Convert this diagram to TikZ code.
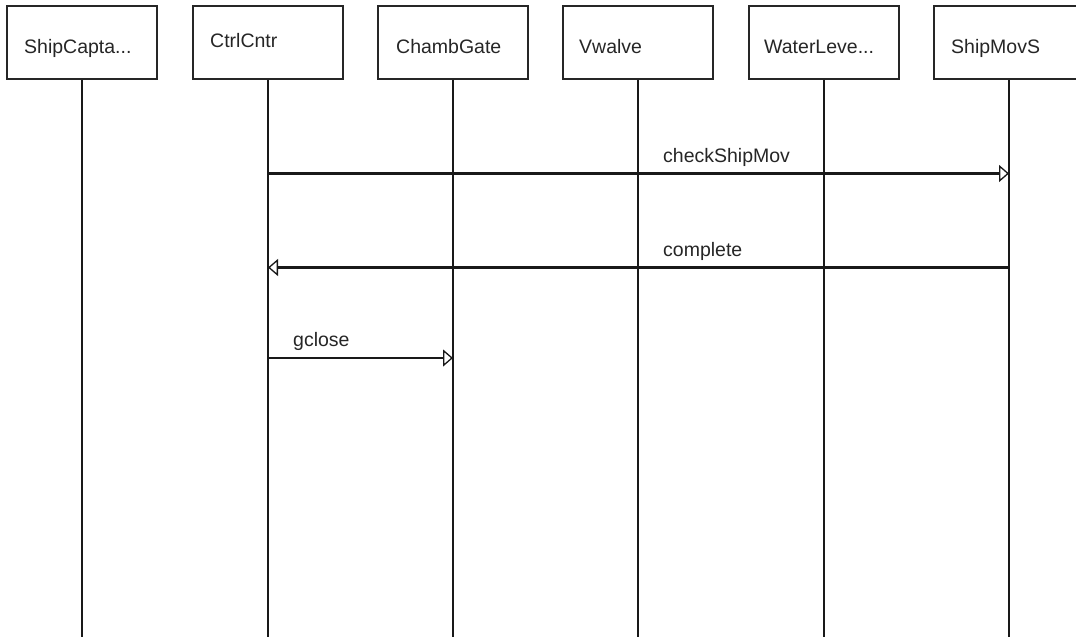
\documentclass[tikz,border=0pt]{standalone}
\usepackage{fontspec}
\setmainfont{Liberation Sans}
\usetikzlibrary{arrows.meta}
\begin{document}
\begin{tikzpicture}[x=1pt,y=-1pt,
  objbox/.style={draw=black!85, line width=1.6pt, fill=white, minimum width=150pt, minimum height=73pt, inner sep=0pt},
  lbl/.style={font=\fontsize{19.5}{21}\selectfont, inner sep=0pt, anchor=base west, text=black!85},
  life/.style={draw=black!90, line width=2.6pt},
  msg/.style={draw=black!90, line width=2.4pt, -{Triangle[open, length=10pt, width=17pt, line width=1.3pt]}}
]
\useasboundingbox (0,0) rectangle (1076,637);
\fill[white] (0,0) rectangle (1076,637);
% lifelines
\coordinate (e1) at (82,637);
\coordinate (e2) at (268,637);
\coordinate (e3) at (453,637);
\coordinate (e4) at (638,637);
\coordinate (e5) at (824,637);
\coordinate (e6) at (1009,637);
\node[objbox] (b1) at (82,42.5) {};
\node[objbox] (b2) at (268,42.5) {};
\node[objbox] (b3) at (453,42.5) {};
\node[objbox] (b4) at (638,42.5) {};
\node[objbox] (b5) at (824,42.5) {};
\node[objbox] (b6) at (1009,42.5) {};
\draw[life] (b1.south) -- (e1);
\draw[life] (b2.south) -- (e2);
\draw[life] (b3.south) -- (e3);
\draw[life] (b4.south) -- (e4);
\draw[life] (b5.south) -- (e5);
\draw[life] (b6.south) -- (e6);
\node[lbl] (t1) at (24,53) {ShipCapta...};
\node[lbl] (t2) at (210,47) {CtrlCntr};
\node[lbl] (t3) at (396,53) {ChambGate};
\node[lbl] (t4) at (579,53) {Vwalve};
\node[lbl] (t5) at (764,53) {WaterLeve...};
\node[lbl] (t6) at (951,53) {ShipMovS};
% messages
\coordinate (m1s) at (268,173.5);
\coordinate (m1e) at (1009,173.5);
\coordinate (m2s) at (1009,267.5);
\coordinate (m2e) at (268,267.5);
\coordinate (m3s) at (268,358);
\coordinate (m3e) at (453,358);
\draw[msg] (m1s) -- (m1e);
\draw[msg] (m2s) -- (m2e);
\draw[msg] (m3s) -- (m3e);
\node[lbl] (l1) at (663,162) {checkShipMov};
\node[lbl] (l2) at (663,256.5) {complete};
\node[lbl] (l3) at (293,346.5) {gclose};
\end{tikzpicture}
\end{document}
